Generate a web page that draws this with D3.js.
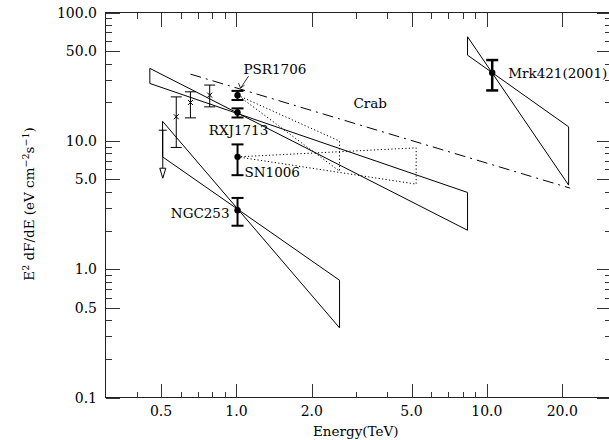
<!DOCTYPE html>
<html>
<head>
<meta charset="utf-8">
<style>
  body { margin: 0; background: #fff; }
  svg { display: block; }
  text { font-family: 'DejaVu Serif', 'Liberation Serif', serif; font-size: 13.5px; fill: #000; }
  text.tl { font-size: 14px; }
  .frame { fill: none; stroke: #222; stroke-width: 1; }
  .tick { stroke: #333; stroke-width: 1; shape-rendering: crispEdges; }
  .bow { fill: none; stroke: #000; stroke-width: 1; }
  .dotted { fill: none; stroke: #000; stroke-width: 1; stroke-dasharray: 1.2,2.3; }
  .crab { fill: none; stroke: #000; stroke-width: 1; stroke-dasharray: 11,5,2,5; }
</style>
</head>
<body>
<script src="https://cdn.jsdelivr.net/npm/d3@7"></script>
<script>

// axis ticks
var xMajor = [0.5, 1, 2, 5, 10, 20];
var xMajorLabels = ["0.5", "1.0", "2.0", "5.0", "10.0", "20.0"];
var xMinor = [0.4, 0.6, 0.7, 0.8, 0.9, 3, 4, 6, 7, 8, 9];
var yMajor = [0.1, 0.5, 1, 5, 10, 50, 100];
var yMajorLabels = ["0.1", "0.5", "1.0", "5.0", "10.0", "50.0", "100.0"];
var yMinor = [0.2, 0.3, 0.4, 0.6, 0.7, 0.8, 0.9, 2, 3, 4, 6, 7, 8, 9, 20, 30, 40, 60, 70, 80, 90];

// solid bowties [E (TeV), E^2 dF/dE]
var rxjBowtie = [[0.451, 36.7], [8.37, 2.01], [8.37, 3.96], [0.451, 28.0]];
var ngcBowtie = [[0.507, 14.2], [2.58, 0.349], [2.58, 0.82], [0.507, 7.5]];
var mrkBowtie = [[8.37, 64.7], [21.2, 4.52], [21.2, 12.86], [8.37, 46.5]];

// dotted bowties
var psrBowtie = [[1.01, 22.7], [2.58, 9.95], [2.58, 5.8]];
var snBowtie = [[1.01, 7.5], [5.22, 8.82], [5.22, 4.6]];

// Crab reference spectrum
var crabLine = [[0.655, 33.1], [21.5, 4.28]];

// points with error bars
var pointNames = ["PSR1706", "RXJ1713", "SN1006", "NGC253", "Mrk421(2001)"];
var pointE = [1.01, 1.01, 1.01, 1.01, 10.5];
var pointF = [22.7, 16.65, 7.5, 2.88, 33.9];
var pointLo = [20.8, 15.2, 5.4, 2.18, 24.7];
var pointHi = [24.5, 17.9, 9.38, 3.59, 42.6];

// cross-marked points
var crossE = [0.575, 0.655, 0.782];
var crossF = [15.4, 19.9, 22.7];
var crossLo = [8.88, 15.1, 18.4];
var crossHi = [22.0, 24.1, 27.2];

// upper limit
var ulE = [0.508];
var ulF = [12.1];

var W = 609, H = 440;
var pL = 105.5, pR = 611, pT = 12.5, pB = 397.5;

var x = d3.scaleLog().domain([0.3, 31.3]).range([pL, pR]);
var y = d3.scaleLog().domain([0.1, 100]).range([pB, pT]);

var svg = d3.select("body").append("svg")
    .attr("width", W)
    .attr("height", H);

// frame
svg.append("rect").attr("class", "frame")
    .attr("x", pL).attr("y", pT)
    .attr("width", pR - pL).attr("height", pB - pT);

var majLen = 14, minLen = 6;

function xTicks(vals, len) {
  vals.forEach(function(v) {
    var px = Math.round(x(v)) + 0.5;
    svg.append("line").attr("class", "tick").attr("x1", px).attr("x2", px).attr("y1", pB).attr("y2", pB - len);
    svg.append("line").attr("class", "tick").attr("x1", px).attr("x2", px).attr("y1", pT).attr("y2", pT + len);
  });
}
function yTicks(vals, len) {
  vals.forEach(function(v) {
    var py = Math.round(y(v)) + 0.5;
    svg.append("line").attr("class", "tick").attr("y1", py).attr("y2", py).attr("x1", pL).attr("x2", pL + len);
    svg.append("line").attr("class", "tick").attr("y1", py).attr("y2", py).attr("x1", pR).attr("x2", pR - len);
  });
}
xTicks(xMajor, majLen);
xTicks(xMinor, minLen);
yTicks(yMajor, majLen);
yTicks(yMinor, minLen);

svg.selectAll(".xlab").data(xMajor).enter().append("text")
    .attr("class", "tl")
    .attr("x", function(d) { return x(d); })
    .attr("y", 416)
    .attr("text-anchor", "middle")
    .text(function(d, i) { return xMajorLabels[i]; });

svg.selectAll(".ylab").data(yMajor).enter().append("text")
    .attr("class", "tl")
    .attr("x", 97)
    .attr("y", function(d) { return y(d) + 5; })
    .attr("text-anchor", "end")
    .text(function(d, i) { return yMajorLabels[i]; });

svg.append("text")
    .attr("x", (pL + 606) / 2)
    .attr("y", 436)
    .attr("text-anchor", "middle")
    .text("Energy(TeV)");

var yl = svg.append("text")
    .attr("transform", "translate(34,204) rotate(-90)")
    .attr("text-anchor", "middle");
yl.append("tspan").text("E");
yl.append("tspan").attr("dy", -5).attr("font-size", "9.5px").text("2");
yl.append("tspan").attr("dy", 5).text(" dF/dE (eV cm");
yl.append("tspan").attr("dy", -5).attr("font-size", "9.5px").text("\u22122");
yl.append("tspan").attr("dy", 5).text("s");
yl.append("tspan").attr("dy", -5).attr("font-size", "9.5px").text("\u22121");
yl.append("tspan").attr("dy", 5).text(")");

var line = d3.line().x(function(d) { return x(d[0]); }).y(function(d) { return y(d[1]); });

[rxjBowtie, ngcBowtie, mrkBowtie].forEach(function(b) {
  svg.append("path").attr("class", "bow").attr("d", line(b) + "Z");
});
[psrBowtie, snBowtie].forEach(function(b) {
  svg.append("path").attr("class", "dotted").attr("d", line(b) + "Z");
});
svg.append("path").attr("class", "crab").attr("d", line(crabLine));

// error bars for 1 TeV sources and Mrk421
pointE.forEach(function(e, i) {
  var px = x(e), cap = 6;
  var g = svg.append("g").attr("stroke", "#000").attr("stroke-width", i === 4 ? 2.5 : 2);
  g.append("line").attr("x1", px).attr("x2", px).attr("y1", y(pointLo[i])).attr("y2", y(pointHi[i]));
  g.append("line").attr("x1", px - cap).attr("x2", px + cap).attr("y1", y(pointLo[i])).attr("y2", y(pointLo[i]));
  g.append("line").attr("x1", px - cap).attr("x2", px + cap).attr("y1", y(pointHi[i])).attr("y2", y(pointHi[i]));
  svg.append("circle").attr("cx", px).attr("cy", y(pointF[i])).attr("r", 3.2).attr("fill", "#000");
});

// cross points
crossE.forEach(function(e, i) {
  var px = x(e), py = y(crossF[i]), cap = 5.5, s = 2.5;
  var g = svg.append("g").attr("stroke", "#000").attr("stroke-width", 1);
  g.append("line").attr("x1", px).attr("x2", px).attr("y1", y(crossLo[i])).attr("y2", y(crossHi[i]));
  g.append("line").attr("x1", px - cap).attr("x2", px + cap).attr("y1", y(crossLo[i])).attr("y2", y(crossLo[i]));
  g.append("line").attr("x1", px - cap).attr("x2", px + cap).attr("y1", y(crossHi[i])).attr("y2", y(crossHi[i]));
  g.append("line").attr("x1", px - s).attr("x2", px + s).attr("y1", py - s).attr("y2", py + s);
  g.append("line").attr("x1", px - s).attr("x2", px + s).attr("y1", py + s).attr("y2", py - s);
});

// upper limit arrow
ulE.forEach(function(e, i) {
  var px = x(e), py = y(ulF[i]), len = 48;
  var g = svg.append("g").attr("stroke", "#000").attr("stroke-width", 1).attr("fill", "#fff");
  g.append("line").attr("x1", px - 4).attr("x2", px + 4).attr("y1", py).attr("y2", py);
  g.append("line").attr("x1", px).attr("x2", px).attr("y1", py).attr("y2", py + len - 10);
  g.append("path").attr("d", "M" + (px - 3) + "," + (py + len - 10) + "L" + (px + 3) + "," + (py + len - 10) + "L" + px + "," + (py + len) + "Z");
});

// labels
var px0 = x(pointE[0]), py0 = y(pointF[0]);
svg.append("text").attr("x", px0 + 6).attr("y", py0 - 21).text("PSR1706");
svg.append("line").attr("stroke", "#000").attr("stroke-width", 0.8)
    .attr("x1", px0 + 11).attr("y1", py0 - 19).attr("x2", px0 + 3).attr("y2", py0 - 7);
svg.append("path").attr("fill", "none").attr("stroke", "#000").attr("stroke-width", 0.8)
    .attr("d", "M" + (px0 + 1) + "," + (py0 - 12) + "L" + (px0 + 3) + "," + (py0 - 7) + "L" + (px0 + 7) + "," + (py0 - 10));

var px1 = x(pointE[1]), py1 = y(pointF[1]);
svg.append("text").attr("x", px1 + 1).attr("y", py1 + 23).attr("text-anchor", "middle").text("RXJ1713");

var px2 = x(pointE[2]), py2 = y(pointF[2]);
svg.append("text").attr("x", px2 + 7).attr("y", py2 + 20).text("SN1006");

var px3 = x(pointE[3]), py3 = y(pointF[3]);
svg.append("text").attr("x", px3 - 8).attr("y", py3 + 8).attr("text-anchor", "end").text("NGC253");

var px4 = x(pointE[4]), py4 = y(pointF[4]);
svg.append("text").attr("x", px4 + 16).attr("y", py4 + 5).text("Mrk421(2001)");

svg.append("text").attr("x", x(3.42)).attr("y", y(19.7) + 5).attr("text-anchor", "middle").text("Crab");

</script>
</body>
</html>
